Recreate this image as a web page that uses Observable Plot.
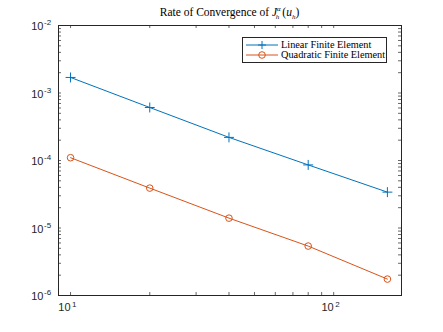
<!DOCTYPE html>
<html><head><meta charset="utf-8">
<script src="https://cdn.jsdelivr.net/npm/d3@7"></script>
<script src="https://cdn.jsdelivr.net/npm/@observablehq/plot@0.6"></script>
<style>
body{margin:0;background:#fff;}
#wrap{position:relative;width:443px;height:332px;}
#title{position:absolute;left:0;width:459px;top:6px;text-align:center;font-family:"Liberation Serif","DejaVu Serif",serif;font-size:11.5px;color:#000;white-space:nowrap;}
#title sup,#title sub{font-size:7px;line-height:0;}
#legend{position:absolute;left:242px;top:37px;width:145px;height:26px;border:1px solid #262626;background:#fff;font-family:"Liberation Serif","DejaVu Serif",serif;font-size:10.3px;color:#000;box-sizing:border-box;}
.row{position:absolute;left:0;height:10px;}
.row span{position:absolute;left:38px;top:-1px;white-space:nowrap;line-height:12px;}
</style></head>
<body><div id="wrap"><div id="title">Rate of Convergence of <i>J</i><sup><i>α</i></sup><sub style="margin-left:-5px"><i>h</i></sub><span style="margin-left:3px">(</span><i>u</i><sub><i>h</i></sub>)</div><div id="legend"></div></div>
<script>
const meshN = [10, 20, 40, 80, 160];
const linearErr = [1.7e-3, 6.1e-4, 2.2e-4, 8.6e-5, 3.4e-5];
const quadErr = [1.1e-4, 3.9e-5, 1.4e-5, 5.4e-6, 1.75e-6];
const seriesNames = ["Linear Finite Element", "Quadratic Finite Element"];
const seriesColors = ["#0072BD", "#D95319"];
const yMajor = [1e-6, 1e-5, 1e-4, 1e-3, 1e-2];
const yExp = ["-6", "-5", "-4", "-3", "-2"];
const xMajor = [10, 100];
const xExp = ["1", "2"];

const yMinor = [];
for (let e = -6; e < -2; e++) for (let m = 2; m <= 9; m++) yMinor.push(m * Math.pow(10, e));
const xMinor = [20, 30, 40, 50, 60, 70, 80, 90];

const lin = meshN.map((x, i) => ({x, y: linearErr[i]}));
const quad = meshN.map((x, i) => ({x, y: quadErr[i]}));
const yTicks = yMajor.concat(yMinor);
const xTicks = xMajor.concat(xMinor);
const tc = "#262626";
const fontSans = "Liberation Sans, Arial, sans-serif";
const W = 443, H = 332, mL = 58, mR = 42, mT = 25, mB = 37;
const fw = W - mL - mR, fh = H - mT - mB, tl = 3;

const chart = Plot.plot({
  width: W, height: H,
  marginLeft: mL, marginRight: mR, marginTop: mT, marginBottom: mB,
  x: {type: "log", domain: [9, 181], axis: null},
  y: {type: "log", domain: [1e-6, 1e-2], axis: null},
  style: {background: "#fff"},
  marks: [
    Plot.tickY(yTicks, {y: d => d, insetRight: fw - tl, stroke: tc, strokeWidth: 0.7}),
    Plot.tickY(yTicks, {y: d => d, insetLeft: fw - tl, stroke: tc, strokeWidth: 0.7}),
    Plot.tickX(xTicks, {x: d => d, insetTop: fh - tl, stroke: tc, strokeWidth: 0.7}),
    Plot.tickX(xTicks, {x: d => d, insetBottom: fh - tl, stroke: tc, strokeWidth: 0.7}),
    Plot.frame({stroke: tc, strokeWidth: 1}),
    Plot.text(yMajor, {y: d => d, frameAnchor: "left", text: () => "10", dx: -15, dy: 1, textAnchor: "end", fontSize: 11, fill: tc, fontFamily: fontSans}),
    Plot.text(yMajor, {y: d => d, frameAnchor: "left", text: (d, i) => yExp[i], dx: -14.5, dy: -3, textAnchor: "start", fontSize: 8, fill: tc, fontFamily: fontSans}),
    Plot.text(xMajor, {x: d => d, frameAnchor: "bottom", text: () => "10", dx: 0, dy: 15, textAnchor: "end", fontSize: 11, fill: tc, fontFamily: fontSans}),
    Plot.text(xMajor, {x: d => d, frameAnchor: "bottom", text: (d, i) => xExp[i], dx: 1.5, dy: 11, textAnchor: "start", fontSize: 8, fill: tc, fontFamily: fontSans}),
    Plot.line(lin, {x: "x", y: "y", stroke: seriesColors[0], strokeWidth: 1}),
    Plot.line(quad, {x: "x", y: "y", stroke: seriesColors[1], strokeWidth: 1}),
    Plot.dot(lin, {x: "x", y: "y", symbol: "plus", r: 3.3, stroke: seriesColors[0], strokeWidth: 1}),
    Plot.dot(quad, {x: "x", y: "y", symbol: "circle", r: 3.3, stroke: seriesColors[1], strokeWidth: 1, fill: "none"})
  ]
});
document.getElementById("wrap").prepend(chart);
chart.style.position = "absolute"; chart.style.left = "0"; chart.style.top = "0";

const legend = document.getElementById("legend");
seriesNames.forEach((name, i) => {
  const row = document.createElement("div");
  row.className = "row";
  row.style.top = (2 + i * 10) + "px";
  row.style.width = "140px";
  const s = `<svg width="36" height="10" style="position:absolute;left:2px;top:0"><line x1="1" x2="33" y1="5" y2="5" stroke="${seriesColors[i]}" stroke-width="1"/>` +
    (i === 0 ? `<path d="M17,1V9M13,5H21" stroke="${seriesColors[i]}" stroke-width="1"/>` : `<circle cx="17" cy="5" r="3.3" fill="none" stroke="${seriesColors[i]}" stroke-width="1"/>`) + `</svg>`;
  row.innerHTML = s + `<span>${name}</span>`;
  legend.appendChild(row);
});
</script></body></html>
